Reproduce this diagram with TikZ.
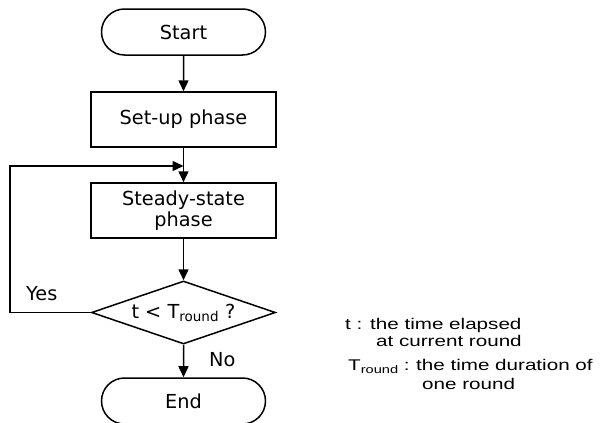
\documentclass[tikz,border=0pt]{standalone}
\usepackage{fontspec}
\setmainfont{DejaVu Sans}
\newfontfamily\notefont[FakeStretch=1.33]{Liberation Sans}
\newcommand{\notesub}[1]{\raisebox{-3.5pt}{\fontsize{11}{11}\selectfont #1}}
\usetikzlibrary{shapes.geometric,shapes.misc,arrows.meta}
\tikzset{
  flow/.style={draw, line width=1.5pt, inner sep=0pt, font=\fontsize{19.3}{21}\selectfont, align=center},
  term/.style={flow, rounded rectangle, minimum width=164pt, minimum height=46pt},
  proc/.style={flow, rectangle, minimum width=185pt, minimum height=55pt},
  decision/.style={flow, diamond, aspect=2.6, minimum width=184pt, minimum height=63pt},
  arr/.style={line width=1.5pt, -{Triangle[length=11pt,width=10pt]}},
  lbl/.style={inner sep=0pt, anchor=base west, font=\fontsize{19.3}{21}\selectfont},
  note/.style={inner sep=0pt, anchor=base west, font=\notefont\fontsize{15.5}{18}\selectfont}
}
\begin{document}
\begin{tikzpicture}[x=1pt,y=-1pt]
\useasboundingbox (0,0) rectangle (614,423);
\node[term] (start) at (183.5,32) {Start};
\node[proc] (setup) at (183.5,119.5) {Set-up phase};
\node[proc] (steady) at (183.5,210.5) {Steady-state\\phase};
\node[decision] (dec) at (183.5,312.5) {t < T\textsubscript{round} ?};
\node[term] (end) at (183.5,401) {End};
\coordinate (join) at (183.5,166);
\coordinate (lc) at (10,312.5);
\draw[arr] (start) -- (setup);
\draw[arr] (setup) -- (steady);
\draw[arr] (steady) -- (dec);
\draw[arr] (dec) -- (end);
\draw[arr] (dec.west) -- (lc) |- (join);
\node[lbl] (yes) at (26,300) {Yes};
\node[lbl] (no) at (209,366) {No};
\node[note] (n1) at (345,329) {\makebox[25pt][l]{t :}the time elapsed};
\node[note] (n2) at (376,346) {at current round};
\node[note] (n3) at (348,370) {\makebox[68pt][l]{T\notesub{round} :}the time duration of};
\node[note] (n4) at (422,389) {one round};
\end{tikzpicture}
\end{document}
